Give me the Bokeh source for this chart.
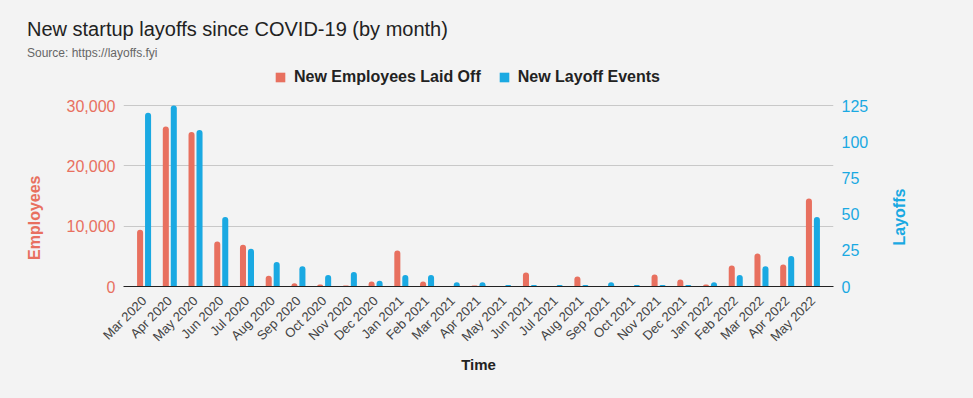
import math
from bokeh.plotting import figure
from bokeh.models import (FactorRange, Range1d, LinearAxis, FixedTicker, NumeralTickFormatter,
                          ColumnDataSource, Legend, LegendItem, Title)
from bokeh.transform import dodge
from bokeh.embed import file_html
from bokeh.resources import INLINE

months = ["Mar 2020", "Apr 2020", "May 2020", "Jun 2020", "Jul 2020", "Aug 2020", "Sep 2020",
          "Oct 2020", "Nov 2020", "Dec 2020", "Jan 2021", "Feb 2021", "Mar 2021", "Apr 2021",
          "May 2021", "Jun 2021", "Jul 2021", "Aug 2021", "Sep 2021", "Oct 2021", "Nov 2021",
          "Dec 2021", "Jan 2022", "Feb 2022", "Mar 2022", "Apr 2022", "May 2022"]
employees_laid_off = [9400, 26500, 25600, 7450, 6900, 1800, 550, 330, 170, 830, 5970, 830, 50, 170,
                      0, 2320, 50, 1660, 50, 0, 1990, 1160, 330, 3480, 5470, 3650, 14590]
layoff_events = [120, 125, 108, 48, 26, 17, 14, 8, 10, 4, 8, 8, 3, 3,
                 1, 1, 1, 1, 3, 1, 1, 1, 3, 8, 14, 21, 48]
left_ticks = [0, 10000, 20000, 30000]
right_ticks = [0, 25, 50, 75, 100, 125]
left_max, right_max = 30000, 125

RED = "#E8705F"
BLUE = "#1AA9E2"
BG = "#f3f3f3"
FONT = "Liberation Sans"
W, H = 973, 398
FRAME_LEFT, FRAME_RIGHT = 123, 833
FRAME_TOP = 62          # frame extends above the axes' top so the legend sits inside it
AXIS_TOP, AXIS_BOTTOM = 105, 286
stretch = (AXIS_BOTTOM - FRAME_TOP) / (AXIS_BOTTOM - AXIS_TOP)
# where the rotated axis titles sit along their axes (in each axis' own units)
EMP_TITLE_AT = 18400    # top end of "Employees"
LAY_TITLE_AT = 28.3     # bottom end of "Layoffs"

src = ColumnDataSource(dict(month=months, employees=employees_laid_off, events=layoff_events))

p = figure(width=W, height=H, title=None,
           x_range=FactorRange(factors=months, range_padding=0.3, range_padding_units="absolute"),
           y_range=Range1d(0, left_max * stretch), output_backend="svg", toolbar_location=None,
           min_border_left=FRAME_LEFT, min_border_right=W - FRAME_RIGHT,
           min_border_top=FRAME_TOP, min_border_bottom=H - AXIS_BOTTOM,
           background_fill_color=BG, border_fill_color=BG, outline_line_color=None)
p.extra_y_ranges = {"layoffs": Range1d(0, right_max * stretch)}

r1 = p.vbar(x=dodge("month", -0.155, range=p.x_range), top="employees", width=0.235, source=src,
            fill_color=RED, line_color=None, border_radius=(3, 3, 0, 0))
r2 = p.vbar(x=dodge("month", 0.155, range=p.x_range), top="events", width=0.235, source=src,
            fill_color=BLUE, line_color=None, border_radius=(3, 3, 0, 0), y_range_name="layoffs")


def plain(axis):
    axis.axis_line_color = None
    axis.major_tick_line_color = None
    axis.minor_tick_line_color = None
    axis.major_tick_out = 0
    axis.major_tick_in = 0
    axis.major_label_text_font = FONT
    axis.major_label_text_font_size = "16px"


# left value axis
ya = p.yaxis[0]
plain(ya)
ya.ticker = FixedTicker(ticks=left_ticks)
ya.formatter = NumeralTickFormatter(format="0,0")
ya.major_label_standoff = 8
ya.major_label_text_color = RED

# left axis title ("Employees"), reading bottom-to-top
yt = LinearAxis(ticker=FixedTicker(ticks=[EMP_TITLE_AT]),
                major_label_overrides={EMP_TITLE_AT: "Employees"})
plain(yt)
yt.major_label_orientation = math.pi / 2
yt.major_label_standoff = 29
yt.major_label_text_font_style = "bold"
yt.major_label_text_color = RED
p.add_layout(yt, "left")

# right value axis
ra = LinearAxis(y_range_name="layoffs", ticker=FixedTicker(ticks=right_ticks))
plain(ra)
ra.major_label_standoff = 8
ra.major_label_text_color = BLUE
p.add_layout(ra, "right")

# right axis title ("Layoffs"), reading bottom-to-top
rt = LinearAxis(y_range_name="layoffs", ticker=FixedTicker(ticks=[LAY_TITLE_AT]),
                major_label_overrides={LAY_TITLE_AT: "Layoffs"})
plain(rt)
rt.major_label_orientation = math.pi / 2
rt.major_label_standoff = 28
rt.major_label_text_font_style = "bold"
rt.major_label_text_color = BLUE
p.add_layout(rt, "right")

# x axis
xa = p.xaxis[0]
xa.axis_line_color = "#222222"
xa.major_tick_line_color = None
xa.minor_tick_line_color = None
xa.major_label_orientation = math.pi / 4
xa.major_label_text_font = FONT
xa.major_label_text_font_size = "13px"
xa.major_label_text_color = "#444444"
xa.major_label_standoff = 6
xa.axis_label = "Time"
xa.axis_label_text_font = FONT
xa.axis_label_text_font_size = "15px"
xa.axis_label_text_font_style = "bold"
xa.axis_label_text_color = "#222222"
xa.axis_label_standoff = 4

p.xgrid.grid_line_color = None
p.ygrid.ticker = FixedTicker(ticks=left_ticks)
p.ygrid.grid_line_color = "#c8c8c8"

# legend inside the (stretched) frame; location gives its bottom-left corner
legend = Legend(items=[LegendItem(label="New Employees Laid Off", renderers=[r1]),
                       LegendItem(label="New Layoff Events", renderers=[r2])],
                orientation="horizontal", location=(274 - FRAME_LEFT, AXIS_BOTTOM - 86),
                glyph_width=12, glyph_height=12, label_standoff=8, spacing=17, padding=0,
                margin=0, border_line_color=None, background_fill_alpha=0,
                label_text_font=FONT, label_text_font_style="bold",
                label_text_font_size="16px", label_text_color="#222222")
p.add_layout(legend)

# subtitle (closest to plot), title, then a small blank spacer at the very top
p.add_layout(Title(text="Source: https://layoffs.fyi", align="left", offset=26.5 - FRAME_LEFT,
                   standoff=6, text_font=FONT, text_font_size="12px", text_font_style="normal",
                   text_color="#666666"), "above")
p.add_layout(Title(text="New startup layoffs since COVID-19 (by month)", align="left",
                   offset=26.5 - FRAME_LEFT, standoff=2, text_font=FONT, text_font_size="20px",
                   text_font_style="normal", text_color="#222222"), "above")
p.add_layout(Title(text=" ", text_font_size="1px", standoff=8), "above")

html = file_html(p, INLINE).replace("<body>", '<body style="background:#f3f3f3">')
open("out.html", "w").write(html)
